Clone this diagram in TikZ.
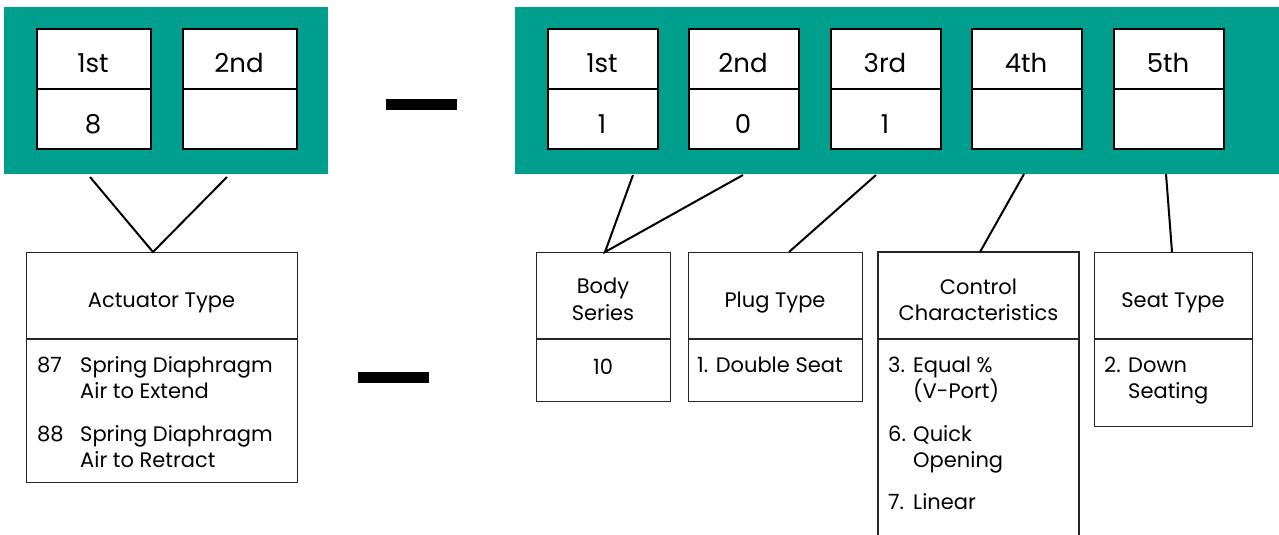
\documentclass[tikz,border=0pt]{standalone}
\usepackage{fontspec}
\setmainfont{Poppins}
\definecolor{tealpanel}{RGB}{0,159,141}
\begin{document}
\begin{tikzpicture}[x=1pt,y=-1pt,
  panel/.style={fill=tealpanel,draw=none,inner sep=0pt,anchor=north west},
  slot/.style={draw=black,line width=2pt,fill=white,inner sep=0pt,anchor=north west,minimum height=120pt},
  big/.style={font=\fontsize{26}{31}\selectfont,anchor=base,inner sep=0pt},
  lbl/.style={font=\fontsize{21}{25}\selectfont,inner sep=0pt},
  infobox/.style={draw=black!85,line width=1.1pt,inner sep=0pt,anchor=north west},
  rule/.style={draw=black!85,line width=1.1pt},
  conn/.style={draw=black,line width=2pt},
  dashbar/.style={fill=black,draw=none,inner sep=0pt,anchor=north west}]
\useasboundingbox (0,0) rectangle (1279,535);
% panels
\node[panel,minimum width=324pt,minimum height=167pt] (pL) at (4,7) {};
\node[panel,minimum width=764pt,minimum height=167pt] (pR) at (515,7) {};
% left slots
\node[slot,minimum width=114pt] (l1) at (36,28) {};
\node[slot,minimum width=114pt] (l2) at (182,28) {};
\foreach \n in {l1,l2} \draw[line width=2pt] (\n.west) -- (\n.east);
\node[big] (l1t) at (93,73) {1st};
\node[big] (l1v) at (93,133) {8};
\node[big] (l2t) at (239,73) {2nd};
% right slots
\foreach \n/\x in {r1/547,r2/688,r3/830,r4/971,r5/1113}{
  \node[slot,minimum width=110pt] (\n) at (\x,28) {};
  \draw[line width=2pt] (\n.west) -- (\n.east);
}
\node[big] (r1t) at (602,73) {1st};
\node[big] (r2t) at (743,73) {2nd};
\node[big] (r3t) at (885,73) {3rd};
\node[big] (r4t) at (1026,73) {4th};
\node[big] (r5t) at (1168,73) {5th};
\node[big] (r1v) at (602,133) {1};
\node[big] (r2v) at (743,133) {0};
\node[big] (r3v) at (885,133) {1};
% dashes
\node[dashbar,minimum width=71pt,minimum height=11pt] (d1) at (386,99) {};
\node[dashbar,minimum width=71pt,minimum height=11pt] (d2) at (358,372) {};
% lower boxes
\node[infobox,minimum width=271pt,minimum height=230pt] (act) at (26,252) {};
\draw[rule] (26,339) -- (297,339);
\node[infobox,minimum width=134pt,minimum height=149pt] (body) at (536,252) {};
\draw[rule] (536,339) -- (670,339);
\node[infobox,minimum width=174pt,minimum height=149pt] (plug) at (688,252) {};
\draw[rule] (688,339) -- (862,339);
\coordinate (ctl) at (878,252);
\draw[rule] (878,545) -- (878,252) -- (1079,252) -- (1079,545);
\draw[rule] (878,339) -- (1079,339);
\node[infobox,minimum width=158pt,minimum height=174pt] (seat) at (1094,252) {};
\draw[rule] (1094,339) -- (1252,339);
% texts
\node[lbl,anchor=base] (actT) at (161.5,307) {Actuator Type};
\node[lbl,anchor=base west] at (37,372) {87};
\node[lbl,anchor=base west] at (80,372) {Spring Diaphragm};
\node[lbl,anchor=base west] at (80,398) {Air to Extend};
\node[lbl,anchor=base west] at (37,441) {88};
\node[lbl,anchor=base west] at (80,441) {Spring Diaphragm};
\node[lbl,anchor=base west] at (80,467) {Air to Retract};
\node[lbl,anchor=base] at (603,293) {Body};
\node[lbl,anchor=base] at (603,320) {Series};
\node[lbl,anchor=base] at (603,374) {10};
\node[lbl,anchor=base] at (775,307) {Plug Type};
\node[lbl,anchor=base west] at (697,372) {1. Double Seat};
\node[lbl,anchor=base] at (978.5,294) {Control};
\node[lbl,anchor=base] at (978.5,320) {Characteristics};
\node[lbl,anchor=base west] at (888,372) {3.};
\node[lbl,anchor=base west] at (913,372) {Equal \%};
\node[lbl,anchor=base west] at (913,398) {(V-Port)};
\node[lbl,anchor=base west] at (888,441) {6.};
\node[lbl,anchor=base west] at (913,441) {Quick};
\node[lbl,anchor=base west] at (913,467) {Opening};
\node[lbl,anchor=base west] at (888,509) {7.};
\node[lbl,anchor=base west] at (913,509) {Linear};
\node[lbl,anchor=base] at (1173,307) {Seat Type};
\node[lbl,anchor=base west] at (1104,372) {2.};
\node[lbl,anchor=base west] at (1128,372) {Down};
\node[lbl,anchor=base west] at (1128,398) {Seating};
% connectors
\coordinate (cA1) at (90,177);
\coordinate (cA2) at (227,177);
\coordinate (apA) at (153,252);
\coordinate (cB1) at (633,175);
\coordinate (cB2) at (743,175);
\coordinate (apB) at (605,252);
\coordinate (cP) at (876,175);
\coordinate (apP) at (789,252);
\coordinate (cC) at (1024,174);
\coordinate (apC) at (980,252);
\coordinate (cS) at (1166,174);
\coordinate (apS) at (1172,252);
\draw[conn] (cA1) -- (apA) -- (cA2);
\draw[conn] (cB1) -- (apB) -- (cB2);
\draw[conn] (cP) -- (apP);
\draw[conn] (cC) -- (apC);
\draw[conn] (cS) -- (apS);
\end{tikzpicture}
\end{document}
